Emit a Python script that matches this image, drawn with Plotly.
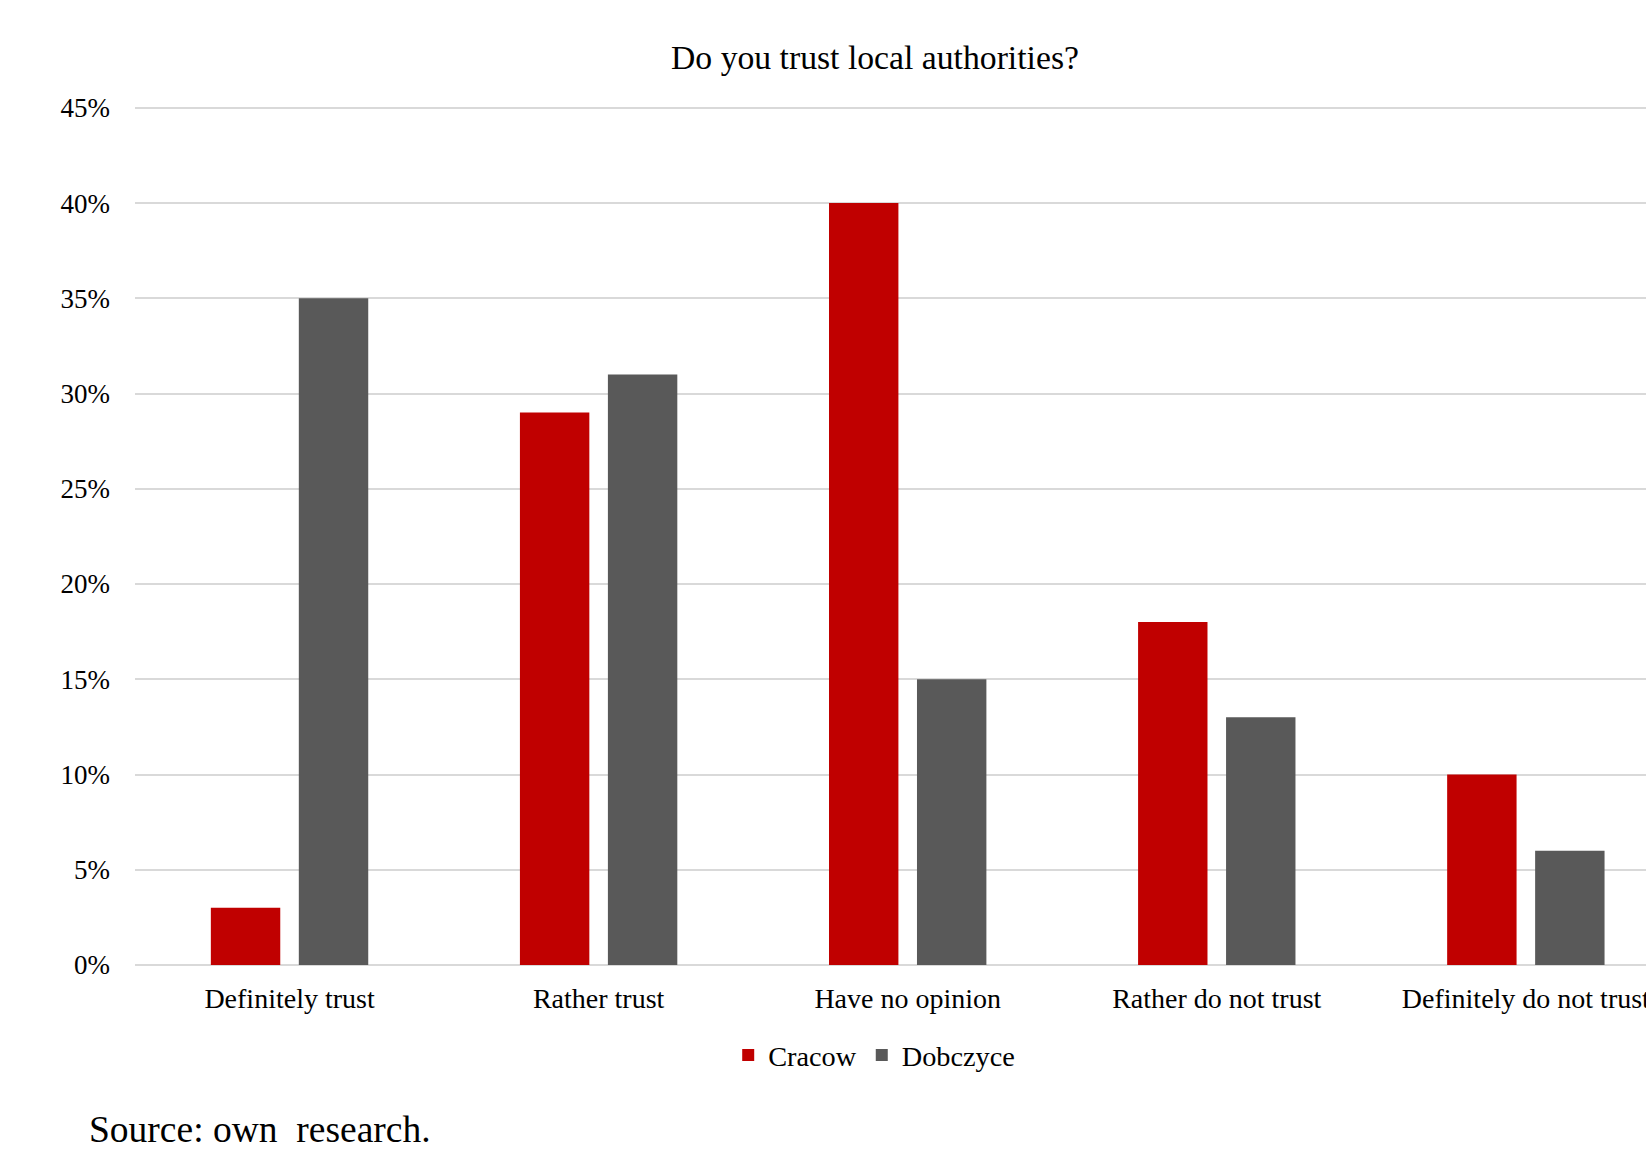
import plotly.graph_objects as go

# Survey answers and shares (%) per town
categories = ["Definitely trust", "Rather trust", "Have no opinion",
              "Rather do not trust", "Definitely do not trust"]
cracow = [3, 29, 40, 18, 10]
dobczyce = [35, 31, 15, 13, 6]
y_ticks = [0, 5, 10, 15, 20, 25, 30, 35, 40, 45]
y_tick_labels = [f"{v}%" for v in y_ticks]

W, H = 1646, 1168
Y_MAX = 45.2  # a little headroom so the 45% gridline is kept
UNIT = 857.1 / 45  # pixels per percentage point
M_L, M_R, M_B = 134.6, 0, 203.2
M_T = H - M_B - UNIT * Y_MAX
plot_h = H - M_T - M_B

FONT = "Liberation Serif, Times New Roman, serif"

fig = go.Figure()
fig.add_trace(go.Bar(name="Cracow", x=categories, y=cracow,
                     marker=dict(color="#C00000", line=dict(width=0))))
fig.add_trace(go.Bar(name="Dobczyce", x=categories, y=dobczyce,
                     marker=dict(color="#595959", line=dict(width=0))))


def py(pixel_y):
    # pixel row -> paper coordinate
    return (H - M_B - pixel_y) / plot_h


fig.update_layout(
    width=W, height=H,
    margin=dict(l=M_L, r=M_R, t=M_T, b=M_B, pad=0, autoexpand=False),
    paper_bgcolor="white", plot_bgcolor="white",
    font=dict(family=FONT, color="#000000", size=27),
    barmode="group", bargap=0.4307, bargroupgap=0.211,
    showlegend=True,
    legend=dict(orientation="h", xanchor="center", yanchor="middle",
                x=(874 - M_L) / (W - M_L), y=py(1055),
                font=dict(size=28.3, family=FONT), itemwidth=30,
                traceorder="normal"),
    title=dict(text="Do you trust local authorities?",
               font=dict(size=33.7, family=FONT, color="#000000"),
               x=875 / W, xanchor="center", xref="container",
               y=1 - 57 / H, yanchor="middle", yref="container"),
    xaxis=dict(range=[-0.5, -0.5 + (W - M_L) / 309.16], automargin=False,
               showgrid=False, zeroline=False, showline=False,
               ticks="", tickfont=dict(size=28, family=FONT),
               ticklabelstandoff=14, fixedrange=True),
    yaxis=dict(range=[0, Y_MAX], tickvals=y_ticks, ticktext=y_tick_labels,
               automargin=False,
               showgrid=True, gridcolor="#D9D9D9", gridwidth=1.6,
               zeroline=True, zerolinecolor="#D9D9D9", zerolinewidth=1.6,
               showline=False, ticks="", tickfont=dict(size=27, family=FONT),
               ticklabelstandoff=24, fixedrange=True),
)

fig.add_annotation(text="Source: own&nbsp; research.", xref="paper", yref="paper",
                   x=(87 - M_L) / (W - M_L), y=py(1129),
                   xanchor="left", yanchor="middle", showarrow=False,
                   font=dict(size=37.5, family=FONT, color="#000000"))

fig.write_html("out.html")
